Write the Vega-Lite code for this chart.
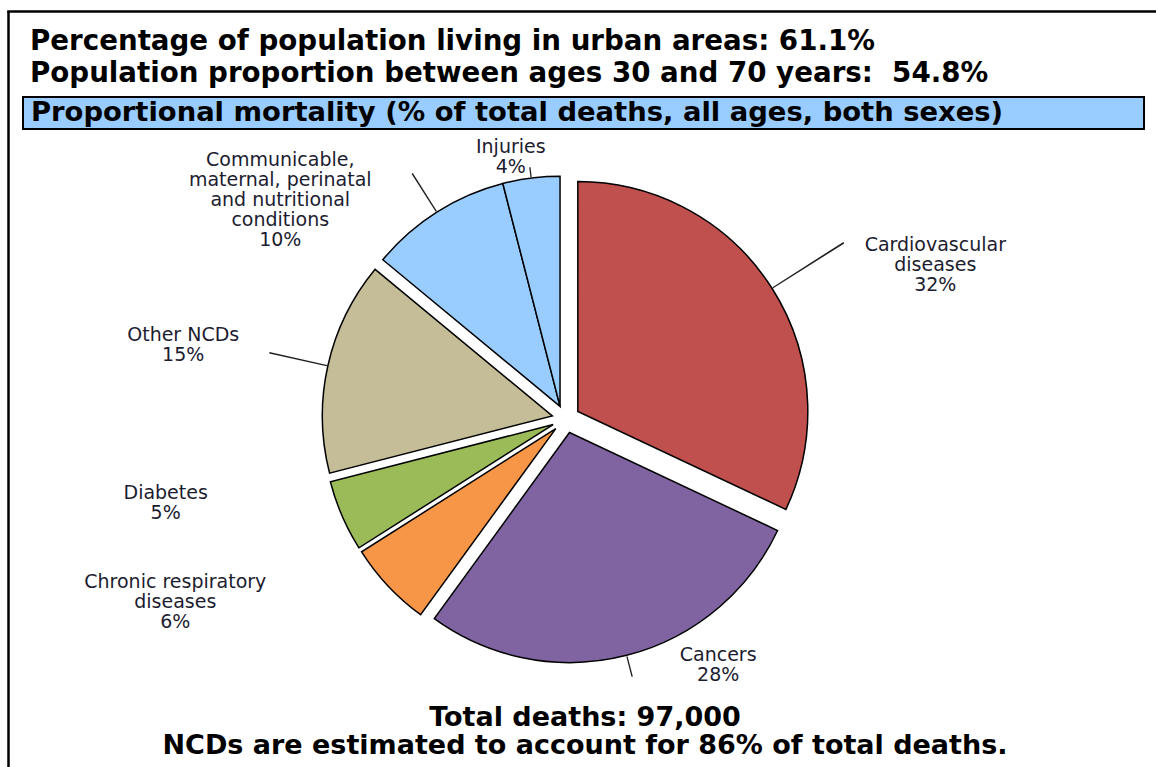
{
  "$schema": "https://vega.github.io/schema/vega-lite/v6.json",
  "background": "white",
  "padding": {"left": 7, "top": 10, "right": 0, "bottom": 0},
  "config": {"view": {"stroke": null}, "font": "DejaVu Sans", "concat": {"spacing": 0}},
  "spacing": 0,
  "bounds": "flush",
  "vconcat": [
    {
      "width": 1149, "height": 1,
      "view": {"stroke": "black", "strokeWidth": 1.5},
      "data": {"values": []},
      "mark": "text"
    },
    {
      "spacing": 14,
      "bounds": "flush",
      "hconcat": [
        {
          "width": 1, "height": 760,
          "view": {"stroke": "black", "strokeWidth": 1.5},
          "data": {"values": []},
          "mark": "text"
        },
        {
          "spacing": 0,
          "bounds": "flush",
          "vconcat": [
            {
              "width": 1121, "height": 85,
              "data": {"values": [{"t": "Percentage of population living in urban areas: 61.1%\nPopulation proportion between ages 30 and 70 years:\u00a0 54.8%"}]},
              "mark": {"type": "text", "align": "left", "baseline": "middle", "lineBreak": "\n", "lineHeight": 32, "font": "DejaVu Sans", "fontSize": 27.7, "fontWeight": "bold", "dx": 7, "dy": -13, "color": "black"},
              "encoding": {
                "text": {"field": "t", "type": "nominal"},
                "x": {"datum": 0, "type": "quantitative", "scale": {"domain": [0, 1]}, "axis": null}
              }
            },
            {
              "width": 1121, "height": 32,
              "view": {"fill": "#99CCFF", "stroke": "black", "strokeWidth": 2},
              "data": {"values": [{"t": "Proportional mortality (% of total deaths, all ages, both sexes)"}]},
              "mark": {"type": "text", "align": "left", "baseline": "middle", "font": "DejaVu Sans", "fontSize": 27.4, "fontWeight": "bold", "dx": 8, "dy": 0, "color": "black"},
              "encoding": {
                "text": {"field": "t", "type": "nominal"},
                "x": {"datum": 0, "type": "quantitative", "scale": {"domain": [0, 1]}, "axis": null}
              }
            },
            {
              "width": 1086, "height": 580,
              "title": {
                "text": ["Total deaths: 97,000", "NCDs are estimated to account for 86% of total deaths."],
                "orient": "bottom", "anchor": "middle", "font": "DejaVu Sans", "fontSize": 27, "fontWeight": "bold",
                "lineHeight": 28, "dx": 19, "offset": -4, "color": "black"
              },
              "data": {"values": [
                {"cause": "Cardiovascular diseases", "label": "Cardiovascular\ndiseases", "pct": 32},
                {"cause": "Cancers", "label": "Cancers", "pct": 28},
                {"cause": "Chronic respiratory diseases", "label": "Chronic respiratory\ndiseases", "pct": 6},
                {"cause": "Diabetes", "label": "Diabetes", "pct": 5},
                {"cause": "Other NCDs", "label": "Other NCDs", "pct": 15},
                {"cause": "Communicable, maternal, perinatal and nutritional conditions", "label": "Communicable,\nmaternal, perinatal\nand nutritional\nconditions", "pct": 10},
                {"cause": "Injuries", "label": "Injuries", "pct": 4}
              ]},
              "transform": [
                {"window": [{"op": "row_number", "as": "idx"}]},
                {"stack": "pct", "groupby": [], "sort": [{"field": "idx", "order": "ascending"}], "as": ["a0", "a1"]},
                {"calculate": "datum.cause == 'Injuries' || datum.cause == 'Communicable, maternal, perinatal and nutritional conditions' ? 'CI' : datum.cause", "as": "piece"},
                {"joinaggregate": [{"op": "min", "field": "a0", "as": "p0"}, {"op": "max", "field": "a1", "as": "p1"}], "groupby": ["piece"]},
                {"calculate": "(datum.p0 + datum.p1) * PI / 100", "as": "emid"},
                {"calculate": "(datum.a0 + datum.a1) / 2", "as": "amid"},
                {"calculate": "datum.label + '\\n' + datum.pct + '%'", "as": "txt"}
              ],
              "layer": [
                {
                  "mark": {
                    "type": "arc", "outerRadius": 230, "stroke": "black", "strokeWidth": 1.5,
                    "xOffset": {"expr": "14 * sin(datum.emid)"},
                    "yOffset": {"expr": "-14 * cos(datum.emid)"}
                  },
                  "encoding": {
                    "theta": {"field": "a0", "type": "quantitative", "stack": null, "scale": {"domain": [0, 100]}},
                    "theta2": {"field": "a1"},
                    "color": {
                      "field": "cause", "type": "nominal", "legend": null,
                      "scale": {
                        "domain": ["Cardiovascular diseases", "Cancers", "Chronic respiratory diseases", "Diabetes", "Other NCDs", "Communicable, maternal, perinatal and nutritional conditions", "Injuries"],
                        "range": ["#C0504D", "#8064A2", "#F79646", "#9BBB59", "#C4BD97", "#99CCFF", "#99CCFF"]
                      }
                    }
                  }
                },
                {
                  "transform": [
                    {"filter": {"field": "cause", "oneOf": ["Cardiovascular diseases", "Cancers", "Other NCDs", "Communicable, maternal, perinatal and nutritional conditions", "Injuries"]}},
                    {"calculate": "datum.amid - 0.045", "as": "l0"},
                    {"calculate": "datum.amid + 0.045", "as": "l1"}
                  ],
                  "mark": {
                    "type": "arc", "innerRadius": 231, "color": "#202020",
                    "outerRadius": {"expr": "datum.cause == 'Cardiovascular diseases' ? 315 : datum.cause == 'Cancers' ? 252 : datum.cause == 'Other NCDs' ? 290 : datum.cause == 'Injuries' ? 241 : 276"},
                    "xOffset": {"expr": "14 * sin(datum.emid)"},
                    "yOffset": {"expr": "-14 * cos(datum.emid)"}
                  },
                  "encoding": {
                    "theta": {"field": "l0", "type": "quantitative", "stack": null},
                    "theta2": {"field": "l1"}
                  }
                },
                {
                  "transform": [{"filter": {"field": "cause", "equal": "Cardiovascular diseases"}}],
                  "mark": {"type": "text", "radius": 300, "dx": 116, "dy": -13, "align": "center", "baseline": "middle", "lineBreak": "\n", "font": "DejaVu Sans", "fontSize": 19, "lineHeight": 20, "color": "#1c1c30"},
                  "encoding": {"theta": {"field": "amid", "type": "quantitative", "stack": null}, "text": {"field": "txt", "type": "nominal"}}
                },
                {
                  "transform": [{"filter": {"field": "cause", "equal": "Cancers"}}],
                  "mark": {"type": "text", "radius": 270, "dx": 85, "dy": -26, "align": "center", "baseline": "middle", "lineBreak": "\n", "font": "DejaVu Sans", "fontSize": 19, "lineHeight": 20, "color": "#1c1c30"},
                  "encoding": {"theta": {"field": "amid", "type": "quantitative", "stack": null}, "text": {"field": "txt", "type": "nominal"}}
                },
                {
                  "transform": [{"filter": {"field": "cause", "equal": "Chronic respiratory diseases"}}],
                  "mark": {"type": "text", "radius": 300, "dx": -172, "dy": -42, "align": "center", "baseline": "middle", "lineBreak": "\n", "font": "DejaVu Sans", "fontSize": 19, "lineHeight": 20, "color": "#1c1c30"},
                  "encoding": {"theta": {"field": "amid", "type": "quantitative", "stack": null}, "text": {"field": "txt", "type": "nominal"}}
                },
                {
                  "transform": [{"filter": {"field": "cause", "equal": "Diabetes"}}],
                  "mark": {"type": "text", "radius": 300, "dx": -125, "dy": -45, "align": "center", "baseline": "middle", "lineBreak": "\n", "font": "DejaVu Sans", "fontSize": 19, "lineHeight": 20, "color": "#1c1c30"},
                  "encoding": {"theta": {"field": "amid", "type": "quantitative", "stack": null}, "text": {"field": "txt", "type": "nominal"}}
                },
                {
                  "transform": [{"filter": {"field": "cause", "equal": "Other NCDs"}}],
                  "mark": {"type": "text", "radius": 300, "dx": -90, "dy": -19, "align": "center", "baseline": "middle", "lineBreak": "\n", "font": "DejaVu Sans", "fontSize": 19, "lineHeight": 20, "color": "#1c1c30"},
                  "encoding": {"theta": {"field": "amid", "type": "quantitative", "stack": null}, "text": {"field": "txt", "type": "nominal"}}
                },
                {
                  "transform": [{"filter": {"field": "cause", "equal": "Communicable, maternal, perinatal and nutritional conditions"}}],
                  "mark": {"type": "text", "radius": 300, "dx": -125, "dy": -6, "align": "center", "baseline": "middle", "lineBreak": "\n", "font": "DejaVu Sans", "fontSize": 19, "lineHeight": 20, "color": "#1c1c30"},
                  "encoding": {"theta": {"field": "amid", "type": "quantitative", "stack": null}, "text": {"field": "txt", "type": "nominal"}}
                },
                {
                  "transform": [{"filter": {"field": "cause", "equal": "Injuries"}}],
                  "mark": {"type": "text", "radius": 265, "dx": -22, "dy": -9, "align": "center", "baseline": "middle", "lineBreak": "\n", "font": "DejaVu Sans", "fontSize": 19, "lineHeight": 20, "color": "#1c1c30"},
                  "encoding": {"theta": {"field": "amid", "type": "quantitative", "stack": null}, "text": {"field": "txt", "type": "nominal"}}
                }
              ]
            }
          ]
        }
      ]
    }
  ]
}
